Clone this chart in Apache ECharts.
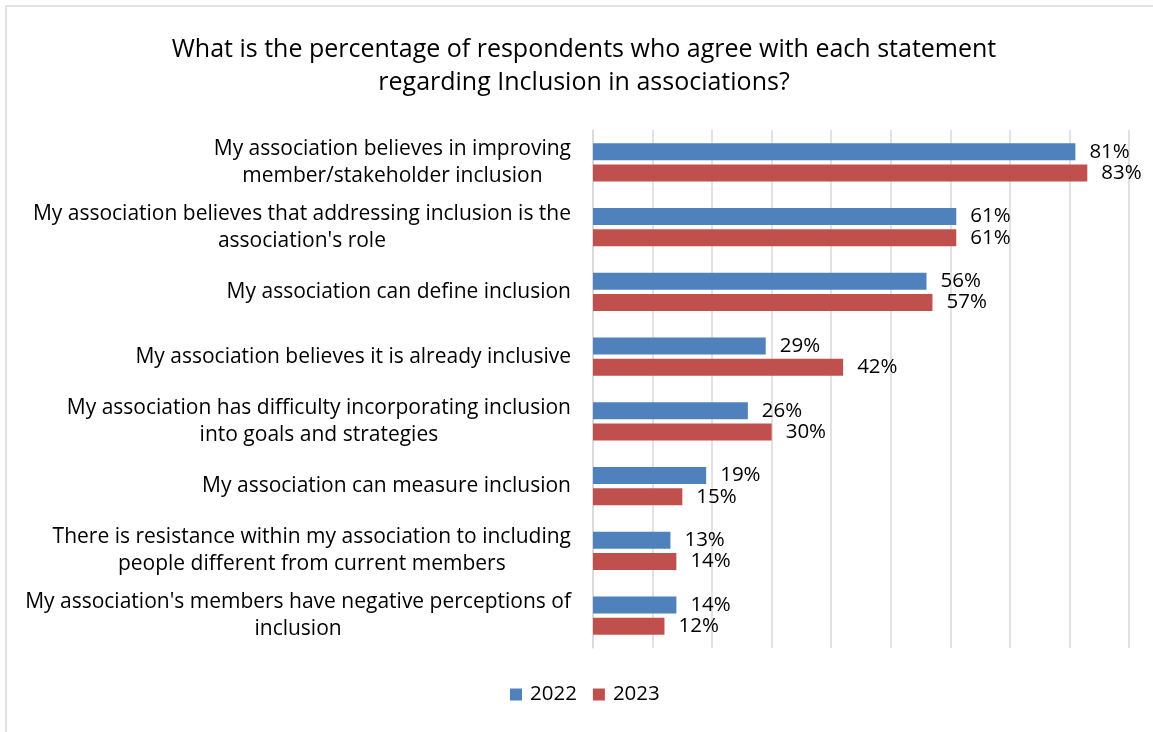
<!DOCTYPE html>
<html>
<head>
<meta charset="utf-8">
<script src="https://cdn.jsdelivr.net/npm/echarts@6/dist/echarts.min.js"></script>
<style>
  html, body { margin: 0; padding: 0; background: #fff; }
  #chart { width: 1153px; height: 732px; }
</style>
</head>
<body>
<div id="chart"></div>
<script>
// Statements (top to bottom) and share of respondents agreeing, in percent
const statements = [
  "My association believes in improving\nmember/stakeholder inclusion",
  "My association believes that addressing inclusion is the\nassociation's role",
  "My association can define inclusion",
  "My association believes it is already inclusive",
  "My association has difficulty incorporating inclusion\ninto goals and strategies",
  "My association can measure inclusion",
  "There is resistance within my association to including\npeople different from current members",
  "My association's members have negative perceptions of\ninclusion"
];
const values2022 = [81, 61, 56, 29, 26, 19, 13, 14];
const values2023 = [83, 61, 57, 42, 30, 15, 14, 12];
const seriesNames = ["2022", "2023"];

const FONT = "'Open Sans', Lato, sans-serif";
const chart = echarts.init(document.getElementById('chart'));

// each label line is centred within its own block; the block is right-aligned to the axis
const labelFormatter = function (value) {
  return value.split('\n').map(function (line) { return '{c|' + line + '}'; }).join('\n');
};

const barLabel = {
  show: true,
  position: 'right',
  distance: 14,
  formatter: '{c}%',
  color: '#000',
  fontSize: 20.5,
  fontFamily: FONT
};

chart.setOption({
  animation: false,
  title: {
    text: "What is the percentage of respondents who agree with each statement\nregarding Inclusion in associations?",
    left: 579,
    textAlign: 'center',
    top: 28,
    textStyle: { fontSize: 25, fontWeight: 'normal', color: '#000', fontFamily: FONT, lineHeight: 33 }
  },
  legend: {
    data: seriesNames,
    bottom: 22,
    left: 505,
    icon: 'rect',
    itemWidth: 12,
    itemHeight: 12,
    itemGap: 16,
    textStyle: { fontSize: 20.5, color: '#000', fontFamily: FONT, padding: [0, 0, 0, 3] }
  },
  grid: { left: 593, right: 24, top: 130, bottom: 84, containLabel: false },
  xAxis: {
    type: 'value',
    min: 0,
    max: 90,
    interval: 10,
    axisLabel: { show: false },
    axisLine: { show: false },
    axisTick: { show: false },
    splitLine: { show: true, lineStyle: { color: '#d9d9d9', width: 1.5 } }
  },
  yAxis: {
    type: 'category',
    data: statements,
    inverse: true,
    axisLine: { show: true, lineStyle: { color: '#d9d9d9', width: 1.5 } },
    axisTick: { show: false },
    axisLabel: {
      margin: 22,
      align: 'right',
      color: '#000',
      fontSize: 21,
      fontFamily: FONT,
      lineHeight: 27,
      formatter: labelFormatter,
      rich: { c: { align: 'center', fontSize: 21, fontFamily: FONT, color: '#000', lineHeight: 27 } }
    }
  },
  series: [
    {
      name: seriesNames[0],
      type: 'bar',
      data: values2022,
      barWidth: 17,
      barGap: '24%',
      itemStyle: { color: '#4f81bd' },
      label: barLabel
    },
    {
      name: seriesNames[1],
      type: 'bar',
      data: values2023,
      barWidth: 17,
      barGap: '24%',
      itemStyle: { color: '#c0504d' },
      label: barLabel
    }
  ],
  graphic: [
    {
      type: 'rect',
      shape: { x: 6, y: 6, width: 1200, height: 800 },
      style: { fill: 'none', stroke: '#d9d9d9', lineWidth: 1.5 },
      silent: true
    }
  ]
});
</script>
</body>
</html>
